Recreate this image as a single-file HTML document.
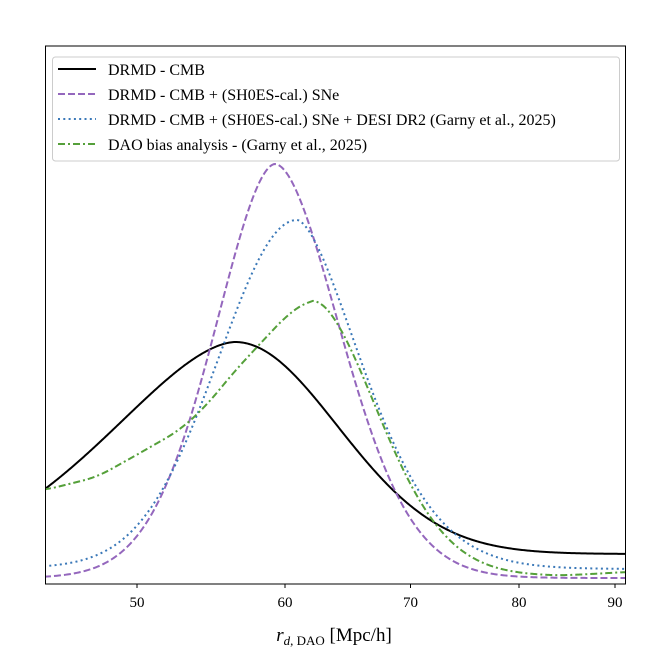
<!DOCTYPE html>
<html><head><meta charset="utf-8"><style>
body{margin:0;background:#fff}
svg{display:block;font-family:"Liberation Serif","DejaVu Serif",serif}
</style></head><body>
<svg id="s" width="668" height="660" viewBox="0 0 668 660" xmlns="http://www.w3.org/2000/svg">
<rect width="668" height="660" fill="#fff"/>
<defs><clipPath id="c"><rect x="45.5" y="46" width="580" height="538"/></clipPath></defs>
<g id="curves" fill="none" stroke-width="2" clip-path="url(#c)"></g>
<rect x="45.5" y="46" width="580" height="538" fill="none" stroke="#000" stroke-width="1"/>
<g stroke="#000" stroke-width="1">
<line x1="137" y1="584" x2="137" y2="588"/>
<line x1="285" y1="584" x2="285" y2="588"/>
<line x1="410.5" y1="584" x2="410.5" y2="588"/>
<line x1="519" y1="584" x2="519" y2="588"/>
<line x1="615" y1="584" x2="615" y2="588"/>
</g>
<g font-size="15" text-anchor="middle" fill="#000">
<text x="137" y="607">50</text>
<text x="285" y="607">60</text>
<text x="410.5" y="607">70</text>
<text x="519" y="607">80</text>
<text x="615" y="607">90</text>
</g>
<text x="334" y="641" font-size="19" text-anchor="middle"><tspan font-style="italic">r</tspan><tspan font-size="13" dy="4"><tspan font-style="italic">d</tspan>, DAO</tspan><tspan dy="-4"> [Mpc/h]</tspan></text>
<rect x="52.5" y="57" width="567" height="104" rx="3" fill="#fff" fill-opacity="0.8" stroke="#ccc" stroke-width="1"/>
<g stroke-width="2">
<line x1="58" y1="69" x2="96" y2="69" stroke="#000"/>
<line x1="58" y1="94" x2="96" y2="94" stroke="#9467bd" stroke-dasharray="7,3"/>
<line x1="58" y1="119" x2="96" y2="119" stroke="#3a78b8" stroke-dasharray="2,3.3"/>
<line x1="58" y1="144" x2="96" y2="144" stroke="#55a03a" stroke-dasharray="7,3,2,3"/>
</g>
<g font-size="16" fill="#000">
<text x="108" y="75">DRMD - CMB</text>
<text x="108" y="100">DRMD - CMB + (SH0ES-cal.) SNe</text>
<text x="108" y="125">DRMD - CMB + (SH0ES-cal.) SNe + DESI DR2 (Garny et al., 2025)</text>
<text x="108" y="150">DAO bias analysis - (Garny et al., 2025)</text>
</g>
</svg>
<script>
const B=584;
function pk(x,c,H,L,R){
  const s=x<c?L:R, d=Math.abs(x-c);
  return s[0]+(H-s[0])*Math.exp(-0.5*Math.pow(d/s[1],s[2]));
}
function interp(pts,x){for(let i=0;i<pts.length-1;i++){if(x<=pts[i+1][0]){const t=(x-pts[i][0])/(pts[i+1][0]-pts[i][0]);return pts[i][1]+t*(pts[i+1][1]-pts[i][1]);}}return pts[pts.length-1][1];}
const xs=[];for(let x=44;x<=628;x+=1)xs.push(x);
const black=xs.map(x=>pk(x,235,242,[12,125,1.7],[30,102,2]));
const purple=xs.map(x=>pk(x,275,420,[6,59.3,1.8],[6,64.3,1.82]));
const blue=xs.map(x=>pk(x,297,364,[16,78,2],[15,62.7,1.65]));
const gl=[[30,90],[45,94],[97,107],[140,131],[180,154],[207,179],[233,211],[257,237],[273,254],[290,272],[313,285]];
let green=xs.map(x=>x<313?interp(gl,x):pk(x,313,285,[0,1,2],[8+Math.max(0,x-560)*0.06,63,1.83]));
const raw=green.slice();
const sm=green.map((v,i)=>{let s=0,n=0;for(let k=-14;k<=14;k++){const j=Math.min(Math.max(i+k,0),green.length-1);s+=green[j];n++;}return s/n;});
const peakI=xs.indexOf(313);
green=sm.map((v,i)=>{const w=Math.max(0,1-Math.abs(i-peakI)/25);return v*(1-w*0.5)+raw[i]*w*0.5;});
function path(arr){return "M"+xs.map((x,i)=>x+","+(B-arr[i]).toFixed(2)).join(" L");}
const S=[["#000","",black],["#9467bd","7,3",purple],["#3a78b8","2,3.3",blue],["#55a03a","7,3,2,3",green]];
const g=document.getElementById("curves");
S.forEach(s=>{const p=document.createElementNS("http://www.w3.org/2000/svg","path");p.setAttribute("d",path(s[2]));p.setAttribute("stroke",s[0]);p.setAttribute("stroke-linejoin","round");if(s[1])p.setAttribute("stroke-dasharray",s[1]);g.appendChild(p);});
</script>
</body></html>
